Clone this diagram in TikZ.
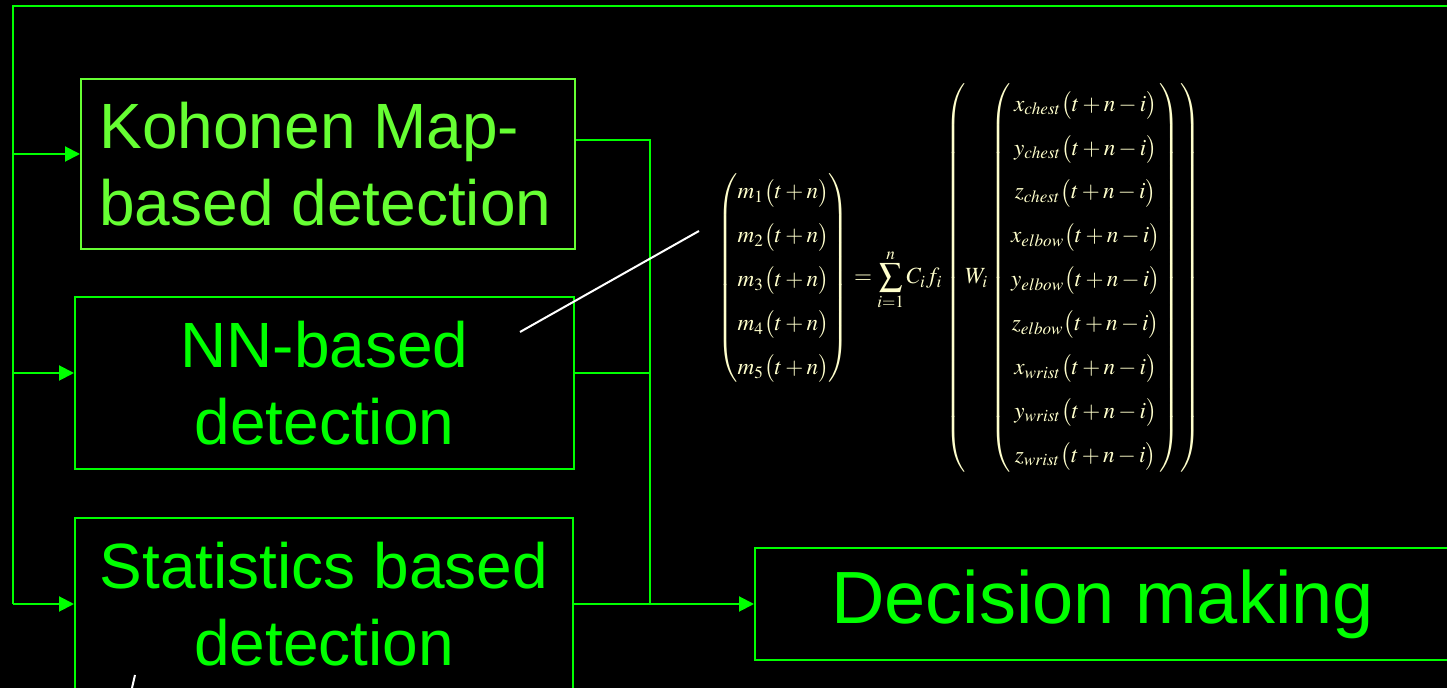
\documentclass[tikz,border=0pt]{standalone}
\usepackage{mathptmx}
\usepackage{amsmath}
\usepackage[no-math]{fontspec}
\setmainfont{Liberation Sans}
\usepackage{graphicx}
\usetikzlibrary{arrows.meta,calc}
\definecolor{gA}{HTML}{00FF00}
\definecolor{gB}{HTML}{66FF33}
\definecolor{mc}{HTML}{FFFFCC}
\begin{document}
\begin{tikzpicture}[x=0.5pt,y=-0.5pt,
  box/.style={draw=gA, line width=1pt, inner sep=0pt, text=gA,
    font=\fontsize{32}{38.5}\selectfont, align=center},
  conn/.style={draw=gA, line width=1pt},
  arr/.style={conn, -{Triangle[length=7.5pt,width=7.5pt]}},
  pointer/.style={draw=white, line width=1pt}]
\fill[black] (0,0) rectangle (1447,688);
\useasboundingbox (0,0) rectangle (1447,688);
% boxes
\node[box, draw=gB, minimum width=247pt, minimum height=85pt] (koh) at (328,164) {};
\node[anchor=west, inner sep=0pt, text=gB, align=left,
  font=\fontsize{32}{38.5}\selectfont] (kohT) at ($(koh.west)+(19,0)$) {Kohonen Map-\\based detection};
\node[box, minimum width=249.5pt, minimum height=86pt] (nn) at (324.5,383) {NN-based\\detection};
\node[box, minimum width=249pt, minimum height=86pt] (st) at (324,604) {Statistics based\\detection};
\node[box, minimum width=347.5pt, minimum height=56pt,
  font=\fontsize{37}{42}\selectfont] (dm) at (1102.5,604) {Decision making};
% left bus
\coordinate (tl) at (13,6);
\coordinate (tr) at (1450,6);
\draw[conn] (tr) -- (tl) -- (tl |- st.west);
\coordinate (kin) at ($(koh.west)+(0,-10)$);
\coordinate (nin) at ($(nn.west)+(0,-10)$);
\draw[arr] (tl |- kin) -- (kin);
\draw[arr] (tl |- nin) -- (nin);
\draw[arr] (tl |- st.west) -- (st.west);
% right bus
\coordinate (bus) at (650,6);
\coordinate (kout) at ($(koh.east)+(0,-24)$);
\coordinate (nout) at ($(nn.east)+(0,-10)$);
\draw[conn] (kout) -- (bus |- kout) -- (bus |- st.east);
\draw[conn] (nout) -- (bus |- nout);
\draw[arr] (st.east) -- (dm.west);
% equation
\node[anchor=north west, inner sep=0pt, text=mc] (eq) at (717,80) {\resizebox{241.5pt}{!}{\medmuskip=2.5mu\thickmuskip=4mu\arraycolsep=3pt$\displaystyle
\renewcommand{\arraystretch}{1.58}
\begin{pmatrix}
m_1\bigl(t+n\bigr)\\ m_2\bigl(t+n\bigr)\\ m_3\bigl(t+n\bigr)\\ m_4\bigl(t+n\bigr)\\ m_5\bigl(t+n\bigr)
\end{pmatrix}
=\sum_{i=1}^{n} C_i f_i\left( W_i
\begin{pmatrix}
x_{chest}\bigl(t+n-i\bigr)\\ y_{chest}\bigl(t+n-i\bigr)\\ z_{chest}\bigl(t+n-i\bigr)\\
x_{elbow}\bigl(t+n-i\bigr)\\ y_{elbow}\bigl(t+n-i\bigr)\\ z_{elbow}\bigl(t+n-i\bigr)\\
x_{wrist}\bigl(t+n-i\bigr)\\ y_{wrist}\bigl(t+n-i\bigr)\\ z_{wrist}\bigl(t+n-i\bigr)
\end{pmatrix}\right)$}};
% pointers
\coordinate (w1) at (520,332);
\coordinate (w2) at (699,231);
\draw[pointer] (w1) -- (w2);
\coordinate (s1) at (135,675);
\coordinate (s2) at (132,688);
\draw[pointer] (s1) -- (s2);
\end{tikzpicture}
\end{document}
